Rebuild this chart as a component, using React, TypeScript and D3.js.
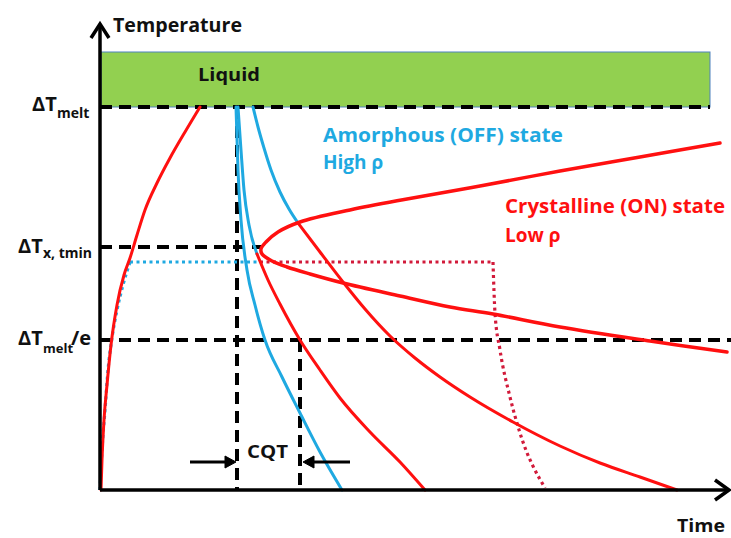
import React from "react";
import * as d3 from "d3";

// Arbitrary units: time (t) and temperature rise (T)
const heatingCurve: [number, number][] = [
  [1, 0], [2, 30], [4, 70], [7, 105], [11, 145], [17, 185], [24, 215], [30, 232],
  [37, 255], [45, 280], [57, 307], [70, 332], [85, 358], [100, 383],
];
const heatingDotted: [number, number][] = [
  [0, 0], [2, 40], [5, 80], [8, 120], [12, 152], [17, 180], [23, 205], [30, 228],
];
const plateauBlue: [number, number][] = [[30, 228], [157, 228]];
const plateauRedFlat: [number, number][] = [[160, 228], [393, 228]];
const plateauRedDrop: [number, number][] = [
  [393, 228], [395, 177], [400, 140], [410, 93], [420, 57], [445, 2],
];
const amorphous1: [number, number][] = [
  [136, 383], [138, 320], [141, 270], [147, 220], [155, 185], [165, 150], [182, 113],
  [200, 77], [220, 38], [242, 0],
];
const amorphous2: [number, number][] = [
  [138, 383], [141, 340], [144, 300], [149, 265], [157, 236],
];
const crystalA: [number, number][] = [
  [157, 236], [168, 210], [180, 186], [200, 150], [220, 120], [240, 92], [270, 58],
  [300, 28], [325, 0],
];
const amorphous3: [number, number][] = [
  [153, 383], [158, 363], [164, 342], [171, 320], [180, 298], [189, 281], [198, 267],
];
const crystalB: [number, number][] = [
  [198, 267], [220, 238], [243, 208], [265, 181], [290, 154], [315, 132], [340, 113],
  [370, 93], [413, 68], [460, 44], [500, 27], [540, 13], [577, 0],
];
const noseCurve: [number, number][] = [
  [620, 347], [540, 333], [460, 319], [380, 304], [307, 291], [250, 280], [200, 268],
  [178, 258], [166, 248], [161, 241], [162, 236], [172, 229], [187, 223], [210, 216],
  [243, 207], [300, 194], [350, 183], [393, 176], [460, 163], [550, 149], [627, 138],
];

const T_MELT = 383;
const T_X_TMIN = 243;
const T_MELT_E = 150;
const T_LIQUID_TOP = 438;
const LIQUID_END = 610;
const X_TMIN_END = 162;
const MELT_E_END = 631;
const CQT_START = 137;
const CQT_END = 200;
const CQT_ARROW_T = 28;

const W = 731;
const H = 538;

export default function App() {
  const x = d3.scaleLinear().domain([0, 631]).range([100, 731]);
  const y = d3.scaleLinear().domain([0, 468]).range([490, 22]);
  const smooth = d3
    .line<[number, number]>()
    .x((d) => x(d[0]))
    .y((d) => y(d[1]))
    .curve(d3.curveMonotoneX);
  const nose = d3
    .line<[number, number]>()
    .x((d) => x(d[0]))
    .y((d) => y(d[1]))
    .curve(d3.curveCatmullRom.alpha(0.5));
  const straight = d3
    .line<[number, number]>()
    .x((d) => x(d[0]))
    .y((d) => y(d[1]));

  const RED = "#ff1010";
  const BLUE = "#1fa9e1";
  const DOT_RED = "#d21a3a";
  const font = "'Open Sans', 'DejaVu Sans', sans-serif";
  const dash = "12 7";

  const ay = y(CQT_ARROW_T);

  return (
    <svg
      width={W}
      height={H}
      style={{ position: "absolute", left: 0, top: 0, background: "#fff" }}
      fontFamily={font}
      fontWeight={700}
    >
      {/* Liquid box */}
      <rect
        x={x(1)}
        y={y(T_LIQUID_TOP)}
        width={x(LIQUID_END) - x(1)}
        height={y(T_MELT) - y(T_LIQUID_TOP)}
        fill="#92d050"
        stroke="#4f81bd"
        strokeWidth={1}
      />
      <text x={198} y={81} fontSize={18} fill="#111" textLength={62} lengthAdjust="spacingAndGlyphs">
        Liquid
      </text>

      {/* Dashed reference lines */}
      <g stroke="#000" strokeWidth={4} strokeDasharray={dash} fill="none">
        <path d={straight([[0, T_MELT], [LIQUID_END, T_MELT]])!} />
        <path d={straight([[0, T_X_TMIN], [X_TMIN_END, T_X_TMIN]])!} />
        <path d={straight([[0, T_MELT_E], [MELT_E_END, T_MELT_E]])!} />
        <path d={straight([[CQT_START, T_MELT], [CQT_START, 0]])!} />
        <path d={straight([[CQT_END, T_MELT_E], [CQT_END, 0]])!} />
      </g>

      {/* Dotted plateau */}
      <g fill="none" strokeWidth={3.2} strokeDasharray="3 3.5">
        <path d={smooth(heatingDotted)!} stroke={BLUE} />
        <path d={straight(plateauBlue)!} stroke={BLUE} />
        <path d={straight(plateauRedFlat)!} stroke={DOT_RED} />
        <path d={smooth(plateauRedDrop)!} stroke={DOT_RED} />
      </g>

      {/* Curves */}
      <g fill="none" strokeWidth={3} strokeLinecap="round">
        <path d={smooth(heatingCurve)!} stroke={RED} />
        <path d={smooth(amorphous1)!} stroke={BLUE} />
        <path d={smooth(amorphous2)!} stroke={BLUE} />
        <path d={smooth(amorphous3)!} stroke={BLUE} />
        <path d={smooth(crystalA)!} stroke={RED} />
        <path d={smooth(crystalB)!} stroke={RED} />
        <path d={nose(noseCurve)!} stroke={RED} strokeWidth={3.5} />
      </g>

      {/* Axes */}
      <g stroke="#000" strokeWidth={3.5} fill="none" strokeLinejoin="miter">
        <line x1={x(0)} y1={y(0)} x2={x(0)} y2={y(466)} />
        <polyline points={`${x(0) - 9},${y(452)} ${x(0)},${y(466)} ${x(0) + 9},${y(452)}`} />
        <line x1={x(0)} y1={y(0)} x2={x(628)} y2={y(0)} />
        <polyline points={`${x(615)},${y(10)} ${x(629)},${y(0)} ${x(615)},${y(-10)}`} />
      </g>

      {/* CQT arrows */}
      <g stroke="#000" strokeWidth={3} fill="#000">
        <line x1={x(90)} y1={ay} x2={x(126)} y2={ay} />
        <path d={`M${x(136)},${ay} L${x(125)},${ay - 6} L${x(125)},${ay + 6} Z`} strokeWidth={1} />
        <line x1={x(250)} y1={ay} x2={x(213)} y2={ay} />
        <path d={`M${x(203)},${ay} L${x(214)},${ay - 6} L${x(214)},${ay + 6} Z`} strokeWidth={1} />
      </g>
      <text x={247} y={458} fontSize={18} fill="#111" textLength={41} lengthAdjust="spacingAndGlyphs">
        CQT
      </text>

      {/* Axis labels */}
      <text x={113} y={32} fontSize={19} fill="#111" textLength={129} lengthAdjust="spacingAndGlyphs">
        Temperature
      </text>
      <text x={677} y={532} fontSize={18} fill="#111" textLength={48} lengthAdjust="spacingAndGlyphs">
        Time
      </text>

      {/* Level labels */}
      <g fill="#111">
        <text x={32} y={111} fontSize={20}>ΔT</text>
        <text x={57} y={118} fontSize={14}>melt</text>
        <text x={18} y={253} fontSize={20}>ΔT</text>
        <text x={43} y={258} fontSize={14}>x, tmin</text>
        <text x={18} y={345} fontSize={20}>ΔT</text>
        <text x={43} y={353} fontSize={13}>melt</text>
        <text x={71} y={345} fontSize={20}>/e</text>
      </g>

      {/* State labels */}
      <text x={323} y={142} fontSize={19} fill={BLUE} textLength={240} lengthAdjust="spacingAndGlyphs">
        Amorphous (OFF) state
      </text>
      <text x={323} y={169} fontSize={19} fill={BLUE}>
        High ρ
      </text>
      <text x={505} y={213} fontSize={19} fill={RED} textLength={220} lengthAdjust="spacingAndGlyphs">
        Crystalline (ON) state
      </text>
      <text x={505} y={242} fontSize={19} fill={RED}>
        Low ρ
      </text>
    </svg>
  );
}
